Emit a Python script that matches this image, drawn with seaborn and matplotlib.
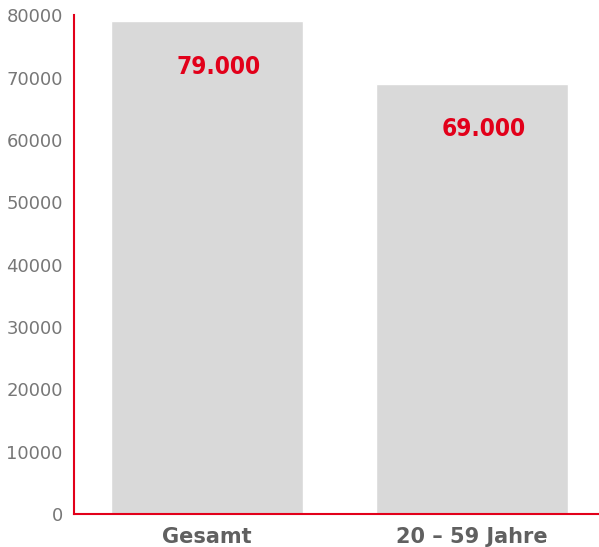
import matplotlib
matplotlib.use("Agg")
import matplotlib.pyplot as plt
import seaborn as sns
import pandas as pd

sns.set_theme(style="white")
plt.rcParams['font.family'] = ['DejaVu Sans']

# Daten
kategorien = ["Gesamt", "20 – 59 Jahre"]
werte = [79000, 69000]
beschriftungen = ["79.000", "69.000"]

rot = "#e2001a"
grau_text = "#777777"

data = pd.DataFrame({"Kategorie": kategorien, "Wert": werte})

fig = plt.figure(figsize=(5.99, 5.47), dpi=100)
ax = fig.add_axes([0.1235, 0.0603, 0.876, 0.912])

sns.barplot(data=data, x="Kategorie", y="Wert", color="#d9d9d9", width=0.725,
            saturation=1, ax=ax)

# Wertebeschriftung in den Balken
for i, (w, txt) in enumerate(zip(werte, beschriftungen)):
    ax.text(i + 0.045, w - 7300, txt, ha="center", va="center", color=rot,
            fontsize=17.5, fontweight="bold", fontstretch="condensed")

ax.set_xlim(-0.502, 1.48)
ax.set_ylim(0, 80000)
ax.set_yticks(range(0, 80001, 10000))
ax.set_xlabel("")
ax.set_ylabel("")

for s in ["top", "right"]:
    ax.spines[s].set_visible(False)
for s in ["left", "bottom"]:
    ax.spines[s].set_color(rot)
    ax.spines[s].set_linewidth(1.5)

ax.tick_params(axis="y", length=0, pad=8, labelsize=13, labelcolor=grau_text)
ax.tick_params(axis="x", length=0, pad=9, labelsize=15, labelcolor="#606060")
for lbl in ax.get_xticklabels():
    lbl.set_fontweight("bold")

fig.savefig("out.png", dpi=100)
